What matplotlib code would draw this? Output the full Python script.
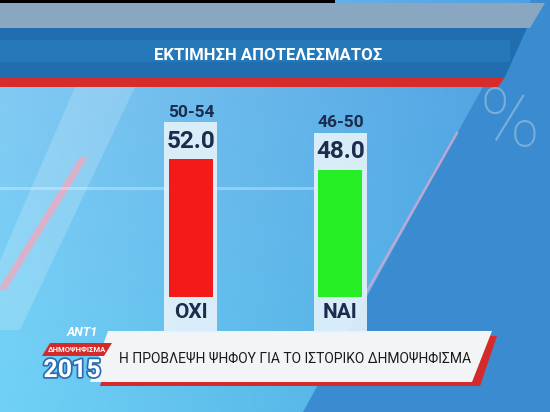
import numpy as np
import matplotlib.pyplot as plt
import matplotlib.patheffects as pe
from matplotlib.patches import Polygon, Rectangle

categories = ["ΟΧΙ", "ΝΑΙ"]
estimates = [52.0, 48.0]
ranges = ["50-54", "46-50"]
bar_colors = ["#f41a1a", "#25ee25"]

title = "ΕΚΤΙΜΗΣΗ ΑΠΟΤΕΛΕΣΜΑΤΟΣ"
caption = "Η ΠΡΟΒΛΕΨΗ ΨΗΦΟΥ ΓΙΑ ΤΟ ΙΣΤΟΡΙΚΟ ΔΗΜΟΨΗΦΙΣΜΑ"

plt.rcParams["font.family"] = ["Roboto", "DejaVu Sans"]
W, H = 550, 412
NAVY = "#1b2c4c"


def draw_background(fig):
    bg = fig.add_axes([0, 0, 1, 1])
    bg.set_xlim(0, W)
    bg.set_ylim(H, 0)
    bg.axis("off")

    # soft blue gradient
    yy, xx = np.mgrid[0:1:H * 1j, 0:1:W * 1j]
    tl = np.array([135, 200, 243])
    tr = np.array([78, 160, 226])
    bl = np.array([112, 210, 246])
    br = np.array([70, 165, 222])
    img = (tl * ((1 - xx) * (1 - yy))[..., None] + tr * (xx * (1 - yy))[..., None]
           + bl * ((1 - xx) * yy)[..., None] + br * (xx * yy)[..., None]) / 255
    bg.imshow(img, extent=(0, W, H, 0), aspect="auto", zorder=0)

    # light diagonal streak and pink stripe on the left
    bg.add_patch(Polygon([(75, 87), (135, 87), (20, 330), (-30, 330)],
                         color="white", alpha=0.18, lw=0, zorder=1))
    bg.add_patch(Polygon([(80, 157), (88, 157), (6, 290), (-2, 290)],
                         color="#f4a6bc", alpha=0.75, lw=0, zorder=1))
    bg.add_patch(Rectangle((0, 187), 330, 3, color="white", alpha=0.3, lw=0, zorder=1))

    # darker triangle on the right
    bg.add_patch(Polygon([(531, 0), (W, 0), (W, H), (303, H)],
                         color="#3b8bd0", lw=0, zorder=1))
    bg.plot([457, 366], [133, 293], color="#d4a8d4", lw=1.8, alpha=0.8, zorder=1)
    bg.text(510, 124, "%", fontsize=58, color="#8cbade", alpha=0.75,
            fontweight="light", ha="center", va="center", zorder=2)

    # header bands
    bg.add_patch(Rectangle((0, 0), 335, 3, color="black", lw=0, zorder=3))
    bg.add_patch(Polygon([(0, 3), (545, 3), (530, 28), (0, 28)],
                         color="#8aa7c2", lw=0, zorder=3))
    bg.add_patch(Polygon([(0, 28), (527, 28), (505, 77), (0, 77)],
                         color="#206eaf", lw=0, zorder=3))
    bg.add_patch(Rectangle((0, 40), 510, 22, color="#2c84c4", alpha=0.5, lw=0, zorder=3))
    bg.add_patch(Polygon([(0, 77), (505, 77), (498, 87), (0, 87)],
                         color="#d62c2c", lw=0, zorder=3))
    bg.text(268, 55, title, fontsize=12, fontweight="bold", color="white",
            ha="center", va="center", zorder=4)

    # bottom caption banner
    bg.add_patch(Polygon([(115, 336), (497, 336), (480, 386), (100, 386)],
                         color="#d42a2a", lw=0, zorder=3))
    bg.add_patch(Polygon([(108, 331), (492, 331), (472, 382), (90, 382)],
                         color="#f2f4f6", lw=0, zorder=4))
    bg.text(119, 359, caption, fontsize=10, color="#1a1a1a",
            ha="left", va="center", zorder=5)

    # logo, drawn over the banner's left end
    bg.add_patch(Polygon([(50, 343), (112, 343), (104, 356), (42, 356)],
                         color="#d42a2a", lw=0, zorder=6))
    bg.text(77, 349.5, "ΔΗΜΟΨΗΦΙΣΜΑ", fontsize=5.5, color="white", fontweight="bold",
            ha="center", va="center", zorder=7)
    bg.text(72, 370, "2015", fontsize=18, color="white", fontweight="bold",
            ha="center", va="center", zorder=7,
            path_effects=[pe.withStroke(linewidth=2.5, foreground="#2a6cb5")])
    bg.text(82, 332, "ΑΝΤ1", fontsize=9, color="white", fontweight="bold",
            style="italic", ha="center", va="center", zorder=7)


def draw_bars(fig):
    # y = 0 sits at pixel 297, about 2.65 px per percentage point
    px_per_unit = 2.65
    ymin, ymax = -20, 75
    bottom_px = 297 + (-ymin) * px_per_unit
    ax = fig.add_axes([0, (H - bottom_px) / H, 1, (ymax - ymin) * px_per_unit / H])
    ax.set_ylim(ymin, ymax)
    step = 149.5
    ax.set_xlim(-191 / step, (W - 191) / step)
    ax.axis("off")
    ax.patch.set_alpha(0)

    x = np.arange(len(categories))
    frame_top = [v + 14 for v in estimates]
    ax.bar(x, [t + 13.6 for t in frame_top], bottom=-13.6, width=53 / step,
           color="#e6f3fb", alpha=0.9, zorder=1)
    ax.bar(x, estimates, width=44 / step, color=bar_colors, zorder=2)

    for i, v in enumerate(estimates):
        ax.text(i, v + 6.8, f"{v:.1f}", fontsize=17.5, fontweight="bold", color=NAVY,
                ha="center", va="center", zorder=3)
        ax.text(i, v + 17.8, ranges[i], fontsize=12.5, fontweight="bold", color=NAVY,
                ha="center", va="center", zorder=3)
        ax.text(i, -6.0, categories[i], fontsize=15, fontweight="bold", color=NAVY,
                ha="center", va="center", zorder=3)


def main():
    fig = plt.figure(figsize=(5.5, 4.12), dpi=100)
    draw_background(fig)
    draw_bars(fig)
    fig.savefig("out.png", dpi=100)


if __name__ == "__main__":
    main()
